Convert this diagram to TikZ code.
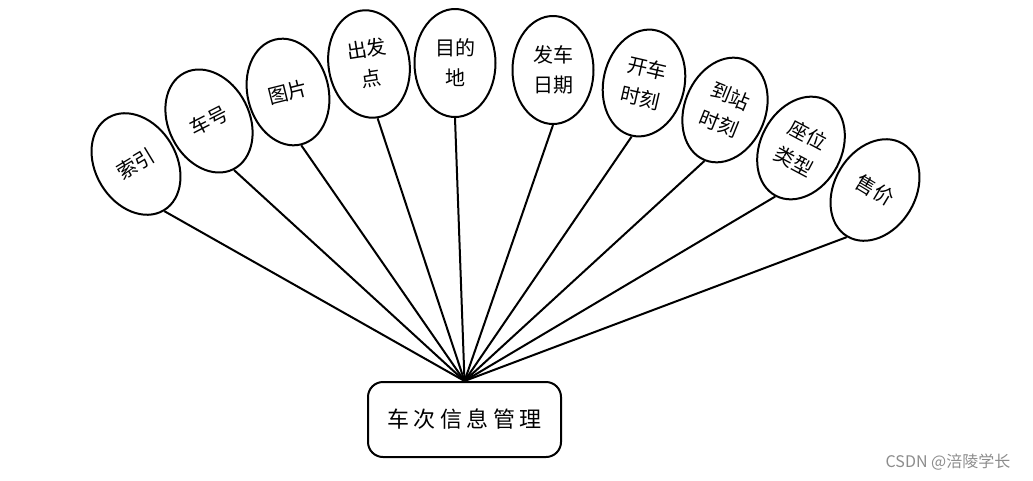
\documentclass[tikz,border=0pt]{standalone}
\usepackage{fontspec}
\newfontfamily\cjk{Noto Sans CJK SC}
\usetikzlibrary{shapes.geometric}
\begin{document}
\begin{tikzpicture}[x=1pt,y=-1pt,
  attr/.style={ellipse, draw, line width=2pt, minimum width=81pt, minimum height=108pt, inner sep=0pt, align=center, font=\cjk\fontsize{20}{30}\selectfont},
  link/.style={line width=2pt},
  mainbox/.style={draw, rounded corners=15pt, line width=2pt, minimum width=193pt, minimum height=75pt, inner sep=0pt, font=\cjk\fontsize{22}{26}\selectfont},
  wmark/.style={font=\cjk\fontsize{16}{18}\selectfont, text=black!45}]
\useasboundingbox (0,0) rectangle (1033,480);
\node[mainbox] (m) at (464.5,419.5) {车\hspace{4.4pt}次\hspace{4.4pt}信\hspace{4.4pt}息\hspace{4.4pt}管\hspace{4.4pt}理};
\coordinate (hub) at (m.north);
\node[attr, rotate=31] (e1) at (136,164) {索引};
\node[attr, rotate=27] (e2) at (209,121) {车号};
\node[attr, rotate=14] (e3) at (288,92) {图片};
\node[attr, rotate=9] (e4) at (369,64) {出发\\点};
\node[attr] (e5) at (455,63) {目的\\地};
\node[attr] (e6) at (553,70) {发车\\日期};
\node[attr, rotate=-13] (e7) at (644,83) {开车\\时刻};
\node[attr, rotate=-22] (e8) at (725,110) {到站\\时刻};
\node[attr, rotate=-28] (e9) at (801,148) {座位\\类型};
\node[attr, rotate=-31] (e10) at (875,190) {售价};
\foreach \i in {1,...,10} {\draw[link] (e\i.south) -- (hub);}
\node[wmark] (wm) at (948,462) {CSDN @涪陵学长};
\end{tikzpicture}
\end{document}
